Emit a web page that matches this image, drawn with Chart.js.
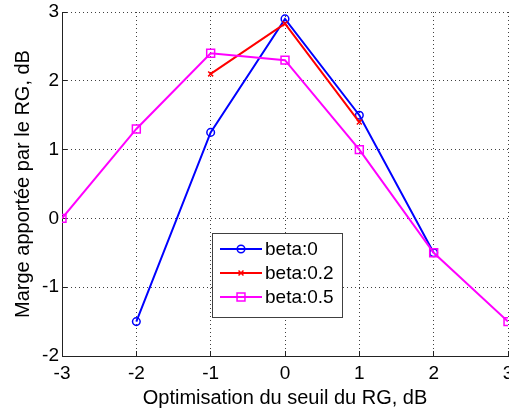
<!DOCTYPE html>
<html>
<head>
<meta charset="utf-8">
<script src="https://cdn.jsdelivr.net/npm/chart.js@4.4.0/dist/chart.umd.min.js"></script>
<style>
  html, body { margin: 0; padding: 0; background: #fff; }
  #wrap { width: 509px; height: 413px; position: relative; }
</style>
</head>
<body>
<div id="wrap"><canvas id="graph"></canvas></div>
<script>
// seuil du RG (dB)
const thresholds = [-3, -2, -1, 0, 1, 2, 3];
// marge apportée (dB) pour chaque beta
const beta0 = [null, -1.5, 1.25, 2.9, 1.5, -0.5, null];
const beta02 = [null, null, 2.1, 2.83, 1.4, null, null];
const beta05 = [0, 1.3, 2.4, 2.3, 1.0, -0.5, -1.5];
const seriesLabels = ["beta:0", "beta:0.2", "beta:0.5"];
const xTicks = [-3, -2, -1, 0, 1, 2, 3];
const yTicks = [-2, -1, 0, 1, 2, 3];

function points(values) {
  let out = [];
  thresholds.forEach((x, i) => {
    if (values[i] !== null) out.push({ x: x, y: values[i] });
  });
  return out;
}

const FONT = "'Liberation Sans', Arial, sans-serif";

// legend drawn inside the plot, matlab style
const boxLegend = {
  id: "boxLegend",
  afterDraw(chart) {
    const ctx = chart.ctx;
    const bx = 212.5, by = 233.5, bw = 130, bh = 84;
    ctx.save();
    ctx.fillStyle = "#fff";
    ctx.fillRect(bx, by, bw, bh);
    ctx.strokeStyle = "#404040";
    ctx.lineWidth = 1;
    ctx.strokeRect(bx, by, bw, bh);
    chart.data.datasets.forEach((ds, i) => {
      const y = 249 + i * 24;
      ctx.strokeStyle = ds.borderColor;
      ctx.lineWidth = ds.borderWidth;
      ctx.beginPath();
      ctx.moveTo(220, y);
      ctx.lineTo(262, y);
      ctx.stroke();
      ctx.fillStyle = "rgba(0,0,0,0)";
      ctx.lineWidth = ds.pointBorderWidth;
      Chart.helpers.drawPoint(ctx, {
        pointStyle: ds.pointStyle,
        radius: ds.pointRadius,
        rotation: 0,
        borderWidth: ds.pointBorderWidth,
      }, 241, y);
      ctx.fillStyle = "#000";
      ctx.font = "19px " + FONT;
      ctx.textBaseline = "middle";
      ctx.textAlign = "left";
      ctx.fillText(seriesLabels[i], 265, y + 1);
    });
    ctx.restore();
  },
};

const gridStyle = {
  color: "rgba(0,0,0,0.75)",
  lineWidth: 1,
  tickLength: -5,
  tickColor: "#222",
  tickWidth: 1,
  tickBorderDash: [],
};

new Chart(document.getElementById("graph").getContext("2d"), {
  type: "line",
  data: {
    datasets: [
      {
        label: seriesLabels[0],
        data: points(beta0),
        borderColor: "#0000ff",
        backgroundColor: "transparent",
        borderWidth: 2,
        pointStyle: "circle",
        pointRadius: 3.8,
        pointBorderWidth: 1.5,
        pointBackgroundColor: "rgba(0,0,0,0)",
        pointBorderColor: "#0000ff",
        order: 3,
      },
      {
        label: seriesLabels[1],
        data: points(beta02),
        borderColor: "#ff0000",
        backgroundColor: "transparent",
        borderWidth: 2,
        pointStyle: "crossRot",
        pointRadius: 3.5,
        pointBorderWidth: 1.5,
        pointBackgroundColor: "rgba(0,0,0,0)",
        pointBorderColor: "#ff0000",
        order: 2,
      },
      {
        label: seriesLabels[2],
        data: points(beta05),
        borderColor: "#ff00ff",
        backgroundColor: "transparent",
        borderWidth: 2,
        pointStyle: "rect",
        pointRadius: 5.6,
        pointBorderWidth: 1.5,
        pointBackgroundColor: "rgba(0,0,0,0)",
        pointBorderColor: "#ff00ff",
        order: 1,
      },
    ],
  },
  options: {
    responsive: true,
    maintainAspectRatio: false,
    animation: false,
    layout: { autoPadding: false, padding: { left: 0, top: 12, right: 1, bottom: 0 } },
    elements: { line: { tension: 0 } },
    plugins: {
      legend: { display: false },
      tooltip: { enabled: false },
    },
    scales: {
      x: {
        type: "linear",
        min: -3,
        max: 3,
        afterBuildTicks: (s) => { s.ticks = xTicks.map((v) => ({ value: v })); },
        afterFit: (s) => { s.height = 57; s.paddingLeft = 0; s.paddingRight = 0; },
        border: { display: true, color: "#222", width: 1, dash: [1, 3] },
        grid: gridStyle,
        ticks: {
          color: "#000",
          font: { family: FONT, size: 19 },
          padding: 11,
          maxRotation: 0,
          autoSkip: false,
        },
        title: {
          display: true,
          text: "Optimisation du seuil du RG, dB",
          color: "#000",
          font: { family: FONT, size: 20 },
          padding: { top: 0, bottom: 3 },
        },
      },
      y: {
        min: -2,
        max: 3,
        afterBuildTicks: (s) => { s.ticks = yTicks.map((v) => ({ value: v })); },
        afterFit: (s) => { s.width = 62; s.paddingTop = 0; s.paddingBottom = 0; },
        border: { display: true, color: "#222", width: 1, dash: [1, 3] },
        grid: gridStyle,
        ticks: {
          color: "#000",
          font: { family: FONT, size: 19 },
          padding: 8,
          autoSkip: false,
        },
        title: {
          display: true,
          text: "Marge apportée par le RG, dB",
          color: "#000",
          font: { family: FONT, size: 20 },
          padding: { top: 11, bottom: 0 },
        },
      },
    },
  },
  plugins: [boxLegend],
});
</script>
</body>
</html>
